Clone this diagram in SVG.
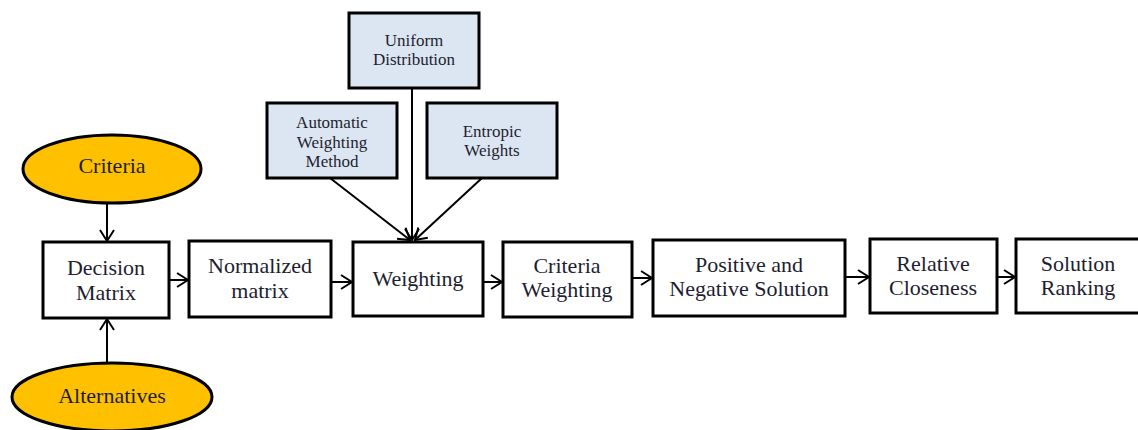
<svg xmlns="http://www.w3.org/2000/svg" width="1138" height="430" viewBox="0 0 1138 430">
<defs>
<style>
.box{fill:#ffffff;stroke:#000;stroke-width:3}
.sub{fill:#dce6f2;stroke:#000;stroke-width:3}
.ell{fill:#ffc000;stroke:#000;stroke-width:3}
.t{font-family:"Liberation Serif","DejaVu Serif",serif;font-size:22px;fill:#1e1e30;text-anchor:middle}
.s{font-family:"Liberation Serif","DejaVu Serif",serif;font-size:17px;fill:#1e1e30;text-anchor:middle}
.c{stroke:#000;stroke-width:2;fill:none;marker-end:url(#ah)}
</style>
<marker id="ah" markerWidth="16" markerHeight="16" refX="12" refY="8" orient="auto" markerUnits="userSpaceOnUse">
<path d="M1,1 L12,8 L1,15" fill="none" stroke="#000" stroke-width="2"/>
</marker>
</defs>
<rect width="1138" height="430" fill="#fff"/>
<g id="connectors">
<line class="c" x1="107" y1="203" x2="107" y2="241"/>
<line class="c" x1="107" y1="362" x2="107" y2="319"/>
<line class="c" x1="169" y1="280" x2="188" y2="280"/>
<line class="c" x1="331" y1="282" x2="352" y2="282"/>
<line class="c" x1="483" y1="282" x2="502" y2="282"/>
<line class="c" x1="632" y1="278" x2="652" y2="278"/>
<line class="c" x1="845" y1="277" x2="869" y2="277"/>
<line class="c" x1="997" y1="277" x2="1015" y2="277"/>
<line class="c" x1="412" y1="88" x2="412" y2="240"/>
<line class="c" x1="330" y1="178" x2="410" y2="240"/>
<line class="c" x1="482" y1="178" x2="415" y2="240"/>
</g>
<g id="criteria"><ellipse class="ell" cx="112" cy="169" rx="89" ry="34"/><text class="t" x="112" y="173">Criteria</text></g>
<g id="alternatives"><ellipse class="ell" cx="112" cy="397" rx="100" ry="34"/><text class="t" x="112" y="403">Alternatives</text></g>
<g id="decision"><rect class="box" x="43" y="242" width="126" height="76"/><text class="t" x="106" y="275">Decision</text><text class="t" x="106" y="300">Matrix</text></g>
<g id="normalized"><rect class="box" x="189" y="241" width="142" height="76"/><text class="t" x="260" y="273">Normalized</text><text class="t" x="260" y="298">matrix</text></g>
<g id="weighting"><rect class="box" x="353" y="242" width="130" height="74"/><text class="t" x="418" y="286">Weighting</text></g>
<g id="uniform"><rect class="sub" x="349" y="13" width="130" height="75"/><text class="s" x="414" y="46">Uniform</text><text class="s" x="414" y="65">Distribution</text></g>
<g id="automatic"><rect class="sub" x="267" y="103" width="130" height="75"/><text class="s" x="332" y="128">Automatic</text><text class="s" x="332" y="148">Weighting</text><text class="s" x="332" y="167">Method</text></g>
<g id="entropic"><rect class="sub" x="427" y="103" width="130" height="75"/><text class="s" x="492" y="137">Entropic</text><text class="s" x="492" y="156">Weights</text></g>
<g id="criteriaWeighting"><rect class="box" x="503" y="242" width="129" height="75"/><text class="t" x="567" y="273">Criteria</text><text class="t" x="567" y="297">Weighting</text></g>
<g id="positive"><rect class="box" x="653" y="240" width="192" height="76"/><text class="t" x="749" y="272">Positive and</text><text class="t" x="749" y="296">Negative Solution</text></g>
<g id="relative"><rect class="box" x="870" y="239" width="127" height="74"/><text class="t" x="933" y="271">Relative</text><text class="t" x="933" y="295">Closeness</text></g>
<g id="ranking"><rect class="box" x="1016" y="239" width="130" height="74"/><text class="t" x="1078" y="271">Solution</text><text class="t" x="1078" y="295">Ranking</text></g>
</svg>
